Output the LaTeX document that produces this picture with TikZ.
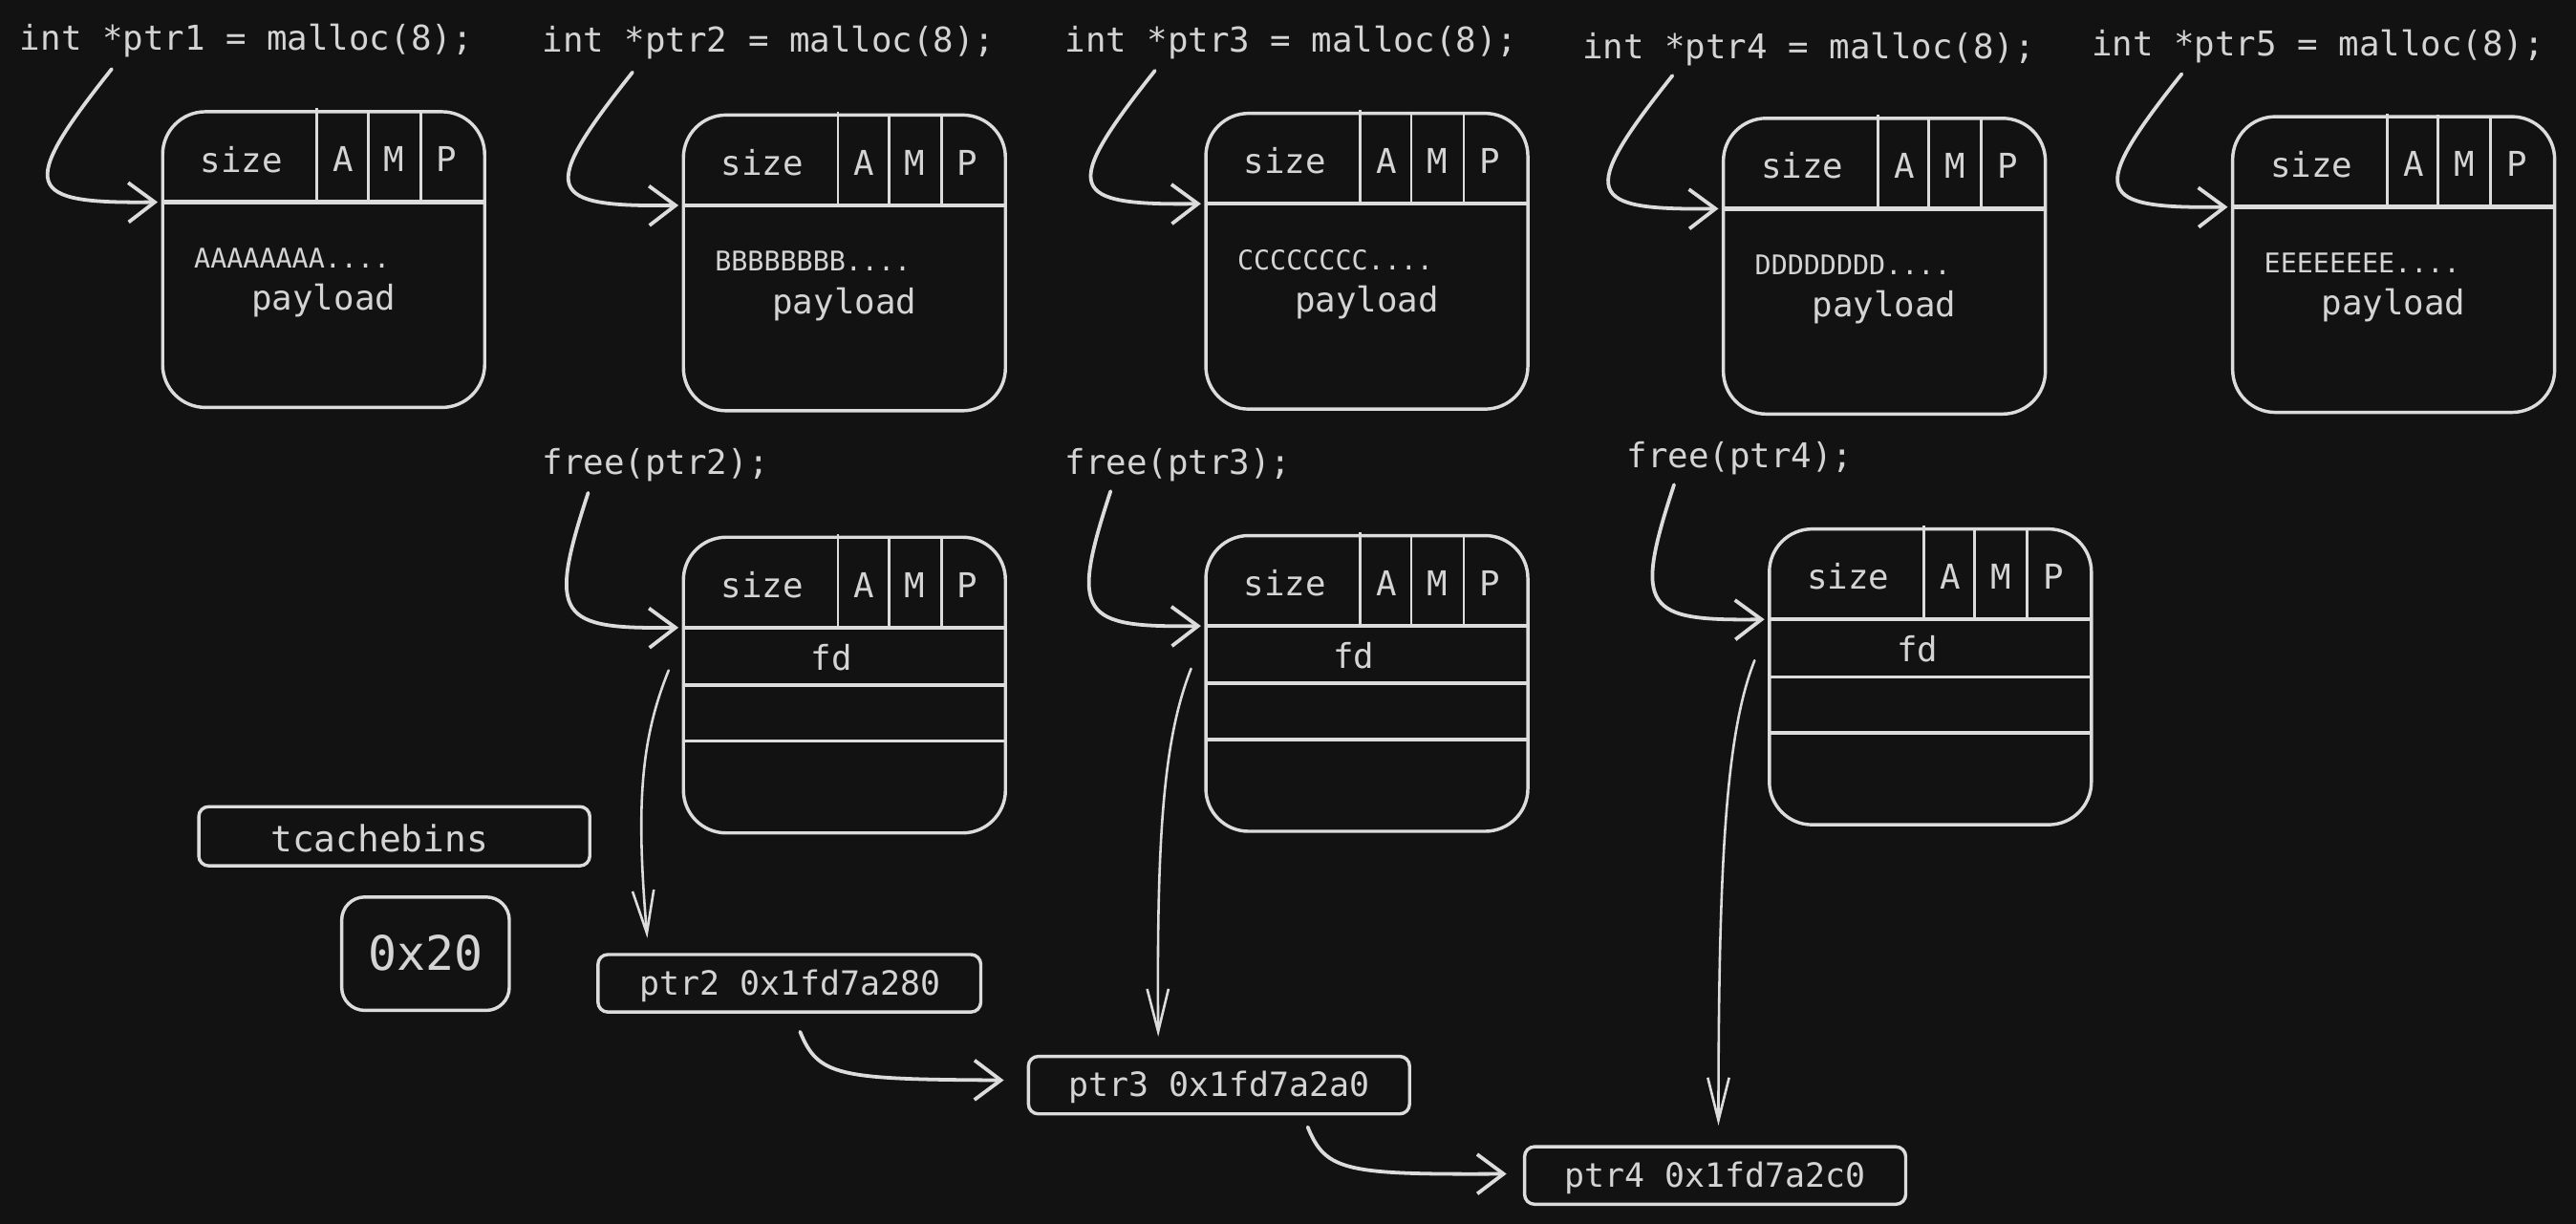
\documentclass[tikz,border=0pt]{standalone}
\usepackage{fontspec}
\setmonofont{DejaVu Sans Mono}
\usetikzlibrary{arrows.meta}
\definecolor{bg}{HTML}{121212}
\definecolor{ink}{HTML}{DCDCDC}
\definecolor{txtc}{HTML}{D4D4D4}
\tikzset{
  chunkbox/.style={draw=ink, line width=2pt, rounded corners=26pt, minimum width=196pt, minimum height=180pt, inner sep=0pt},
  hline/.style={draw=ink, line width=2.6pt},
  sline/.style={draw=ink, line width=2.2pt},
  vline/.style={draw=ink, line width=1.6pt},
  code/.style={text=txtc, font=\ttfamily\fontsize{20.8}{24}\selectfont, inner sep=0pt},
  smallcode/.style={text=txtc, font=\ttfamily\fontsize{16.5}{20}\selectfont, inner sep=0pt},
  tbox/.style={draw=ink, line width=2pt, rounded corners=6pt, inner sep=0pt},
  arr/.style={draw=ink, line width=2.2pt, line cap=round, -{Straight Barb[length=16pt,width=24pt,line width=2.2pt]}},
  darr/.style={draw=ink, line width=1.5pt, line cap=round, -{Straight Barb[length=26pt,width=13pt,line width=1.5pt]}},
}
\newcommand\chunktop[3]{%
  \begin{scope}[shift={(#2,#3)}]
    \node[chunkbox] (#1) at (98,90) {};
    \coordinate (#1-in) at (-3,55);
    \draw[hline] (0,55) -- (196,55);
    \draw[vline] (94,-2) -- (94,55) (125,-1) -- (125,55) (157,0) -- (157,55);
    \node[code] (#1-size) at (48,29) {size};
    \node[code] (#1-a) at (110,29) {A};
    \node[code] (#1-m) at (141,29) {M};
    \node[code] (#1-p) at (173,29) {P};
  \end{scope}}
\newcommand\payloadtxt[4]{%
  \begin{scope}[shift={(#2,#3)}]
    \node[smallcode, anchor=west] (#1-data) at (19,89) {#4};
    \node[code] (#1-pl) at (98,115) {payload};
  \end{scope}}
\newcommand\freedtxt[3]{%
  \begin{scope}[shift={(#2,#3)}]
    \draw[sline] (0,90) -- (196,90);
    \draw[sline] (0,124) -- (196,124);
    \node[code] (#1-fd) at (90,73) {fd};
  \end{scope}}
\begin{document}
\begin{tikzpicture}[x=1pt,y=-1pt]
\useasboundingbox (0,0) rectangle (1568,745);
\fill[bg] (0,0) rectangle (1568,745);

% malloc labels
\node[code, anchor=west] (l1) at (12,25) {int *ptr1 = malloc(8);};
\node[code, anchor=west] (l2) at (330,26) {int *ptr2 = malloc(8);};
\node[code, anchor=west] (l3) at (648,26) {int *ptr3 = malloc(8);};
\node[code, anchor=west] (l4) at (963,30) {int *ptr4 = malloc(8);};
\node[code, anchor=west] (l5) at (1273,28) {int *ptr5 = malloc(8);};

% allocated chunks
\chunktop{c1}{99}{68}   \payloadtxt{c1}{99}{68}{AAAAAAAA....}
\chunktop{c2}{416}{70}  \payloadtxt{c2}{416}{70}{BBBBBBBB....}
\chunktop{c3}{734}{69}  \payloadtxt{c3}{734}{69}{CCCCCCCC....}
\chunktop{c4}{1049}{72} \payloadtxt{c4}{1049}{72}{DDDDDDDD....}
\chunktop{c5}{1359}{71} \payloadtxt{c5}{1359}{71}{EEEEEEEE....}

\coordinate (s1) at (68,42);
\coordinate (s2) at (385,44);
\coordinate (s3) at (703,43);
\coordinate (s4) at (1018,46);
\coordinate (s5) at (1328,45);
\draw[arr] (s1) .. controls (10,115) and (15,124) .. (c1-in);
\draw[arr] (s2) .. controls (327,117) and (332,126) .. (c2-in);
\draw[arr] (s3) .. controls (645,116) and (650,125) .. (c3-in);
\draw[arr] (s4) .. controls (960,119) and (965,128) .. (c4-in);
\draw[arr] (s5) .. controls (1270,118) and (1275,127) .. (c5-in);

% free labels
\node[code, anchor=west] (fl2) at (330,283) {free(ptr2);};
\node[code, anchor=west] (fl3) at (648,283) {free(ptr3);};
\node[code, anchor=west] (fl4) at (990,279) {free(ptr4);};

% freed chunks
\chunktop{f2}{416}{327}  \freedtxt{f2}{416}{327}
\chunktop{f3}{734}{326}  \freedtxt{f3}{734}{326}
\chunktop{f4}{1077}{322} \freedtxt{f4}{1077}{322}

\coordinate (g2) at (358,300);
\coordinate (g3) at (676,299);
\coordinate (g4) at (1019,295);
\draw[arr] (g2) .. controls (333,376) and (340,383) .. (f2-in);
\draw[arr] (g3) .. controls (651,375) and (658,382) .. (f3-in);
\draw[arr] (g4) .. controls (994,371) and (1001,378) .. (f4-in);

% tcache bins
\node[tbox, minimum width=238pt, minimum height=36pt] (tb) at (240,509) {};
\node[code, font=\ttfamily\fontsize{22}{26}\selectfont] (tbt) at (231,510) {tcachebins};
\node[tbox, rounded corners=14pt, minimum width=102pt, minimum height=69pt] (zb) at (259,580.5) {};
\node[code, font=\ttfamily\fontsize{29}{34}\selectfont] (zbt) at (259,580) {0x20};

\node[tbox, minimum width=233pt, minimum height=35pt] (p2) at (480.5,598.5) {};
\node[code, font=\ttfamily\fontsize{20.3}{24}\selectfont] (p2t) at (481,600) {ptr2 0x1fd7a280};
\node[tbox, minimum width=232pt, minimum height=35pt] (p3) at (742,660.5) {};
\node[code, font=\ttfamily\fontsize{20.3}{24}\selectfont] (p3t) at (742,662) {ptr3 0x1fd7a2a0};
\node[tbox, minimum width=232pt, minimum height=35pt] (p4) at (1044,715.5) {};
\node[code, font=\ttfamily\fontsize{20.3}{24}\selectfont] (p4t) at (1044,717) {ptr4 0x1fd7a2c0};

% fd pointers
\coordinate (d2) at (407,408);
\coordinate (d3) at (725,407);
\coordinate (d4) at (1068,402);
\draw[darr] (d2) .. controls (390,450) and (387,490) .. ([xshift=31pt,yshift=9pt]p2.north west);
\draw[darr] (d3) .. controls (708,450) and (704,510) .. ([xshift=80pt,yshift=11pt]p3.north west);
\draw[darr] (d4) .. controls (1051,445) and (1046,520) .. ([xshift=119pt,yshift=12pt]p4.north west);

% list links
\coordinate (e2) at (487,628);
\coordinate (e3) at (796,686);
\draw[arr] (e2) .. controls (498,655) and (510,657) .. ([xshift=-14pt,yshift=3pt]p3.west);
\draw[arr] (e3) .. controls (807,713) and (819,715) .. ([xshift=-10pt,yshift=1pt]p4.west);
\end{tikzpicture}
\end{document}
